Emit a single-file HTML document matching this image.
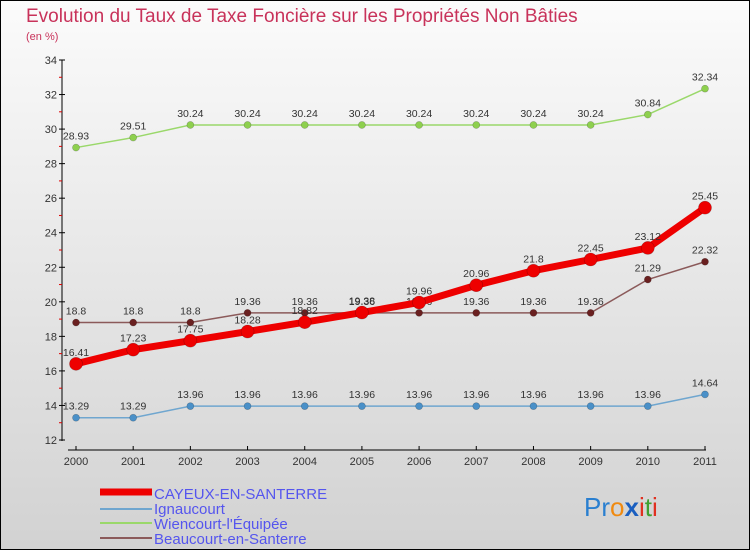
<!DOCTYPE html>
<html><head><meta charset="utf-8"><style>
body{margin:0}
#c{width:750px;height:550px;position:relative;overflow:hidden}
text{font-family:"Liberation Sans",sans-serif}
</style></head><body>
<div id="c">
<svg id="s" width="750" height="550" xmlns="http://www.w3.org/2000/svg">
<defs><linearGradient id="bg" x1="0" y1="0" x2="0" y2="1"><stop offset="0" stop-color="#fbfbfb"/><stop offset="1" stop-color="#d2d2d2"/></linearGradient></defs>
<rect x="0.5" y="0.5" width="749" height="549" fill="url(#bg)" stroke="#000"/>
<text x="26" y="22" font-size="19" fill="#c8325a">Evolution du Taux de Taxe Foncière sur les Propriétés Non Bâties</text>
<text x="26" y="40" font-size="11" fill="#c8325a">(en %)</text>
<g id="axes"></g><g id="series"></g>
<g>
<line x1="100" y1="492" x2="152" y2="492" stroke="#e00" stroke-width="7"/>
<text x="154" y="499" font-size="15" fill="#5555ee">CAYEUX-EN-SANTERRE</text>
<line x1="100" y1="509" x2="152" y2="509" stroke="#6fa6cf" stroke-width="2"/>
<text x="154" y="514" font-size="15" fill="#5555ee">Ignaucourt</text>
<line x1="100" y1="523" x2="152" y2="523" stroke="#9ad86a" stroke-width="2"/>
<text x="154" y="529" font-size="15" fill="#5555ee">Wiencourt-l'Équipée</text>
<line x1="100" y1="538" x2="152" y2="538" stroke="#8b5a5a" stroke-width="2"/>
<text x="154" y="544" font-size="15" fill="#5555ee">Beaucourt-en-Santerre</text>
</g>
<text x="584" y="516" font-size="26"><tspan fill="#2a7fd0">Pr</tspan><tspan fill="#f08a10">o</tspan><tspan fill="#1a5fc0" font-weight="bold">x</tspan><tspan fill="#e03020">i</tspan><tspan fill="#40a030">t</tspan><tspan fill="#e03020">i</tspan></text>
</svg></div>
<script>
const years=[2000,2001,2002,2003,2004,2005,2006,2007,2008,2009,2010,2011];
const yTicks=[12,14,16,18,20,22,24,26,28,30,32,34];
const cayeux=[16.41,17.23,17.75,18.28,18.82,19.38,19.96,20.96,21.8,22.45,23.12,25.45];
const ignaucourt=[13.29,13.29,13.96,13.96,13.96,13.96,13.96,13.96,13.96,13.96,13.96,14.64];
const wiencourt=[28.93,29.51,30.24,30.24,30.24,30.24,30.24,30.24,30.24,30.24,30.84,32.34];
const beaucourt=[18.8,18.8,18.8,19.36,19.36,19.36,19.36,19.36,19.36,19.36,21.29,22.32];
const NS="http://www.w3.org/2000/svg";
const X=i=>76+i*(705-76)/(years.length-1);
const Y=v=>440-(v-12)*(380/22);
function mk(t,a,p){const e=document.createElementNS(NS,t);for(const k in a)e.setAttribute(k,a[k]);p.appendChild(e);return e;}
const ax=document.getElementById('axes');
let l=mk('line',{x1:62,y1:60,x2:62,y2:441,stroke:'#000'},ax);


l=mk('line',{x1:68,y1:450,x2:706,y2:450,stroke:'#000'},ax);


yTicks.forEach(v=>{mk('line',{x1:59,y1:Y(v),x2:65,y2:Y(v),stroke:'#000'},ax);
if(v<34)mk('line',{x1:59,y1:Y(v+1),x2:62,y2:Y(v+1),stroke:'#d00'},ax);
const t=mk('text',{x:57,y:Y(v)+4,'font-size':11,fill:'#333','text-anchor':'end'},ax);t.textContent=v;

});
years.forEach((y,i)=>{mk('line',{x1:X(i),y1:446,x2:X(i),y2:450,stroke:'#000'},ax);
const t=mk('text',{x:X(i),y:465,'font-size':11,fill:'#333','text-anchor':'middle'},ax);t.textContent=y;

});
const sg=document.getElementById('series');
function series(d,name,color,w,r,dot){const g=mk('g',{},sg);


mk('polyline',{points:d.map((v,i)=>X(i)+','+Y(v)).join(' '),fill:'none',stroke:color,'stroke-width':w},g);
d.forEach((v,i)=>{const c=mk('circle',{cx:X(i),cy:Y(v),r:r,fill:dot,stroke:'#0004','stroke-width':0.6},g);


const t=mk('text',{x:X(i),y:Y(v)-8,'font-size':10.5,fill:'#333','text-anchor':'middle'},g);t.textContent=v;

});}
series(wiencourt,'wiencourt-series','#9ad86a',1.5,3.5,'#8ed04e');
series(ignaucourt,'ignaucourt-series','#6fa6cf',1.5,3.5,'#4a90c8');
series(beaucourt,'beaucourt-series','#8b5a5a',1.5,3.5,'#6a2020');
series(cayeux,'cayeux-series','#e00',7,6.5,'#e00');
</script>
</body></html>
